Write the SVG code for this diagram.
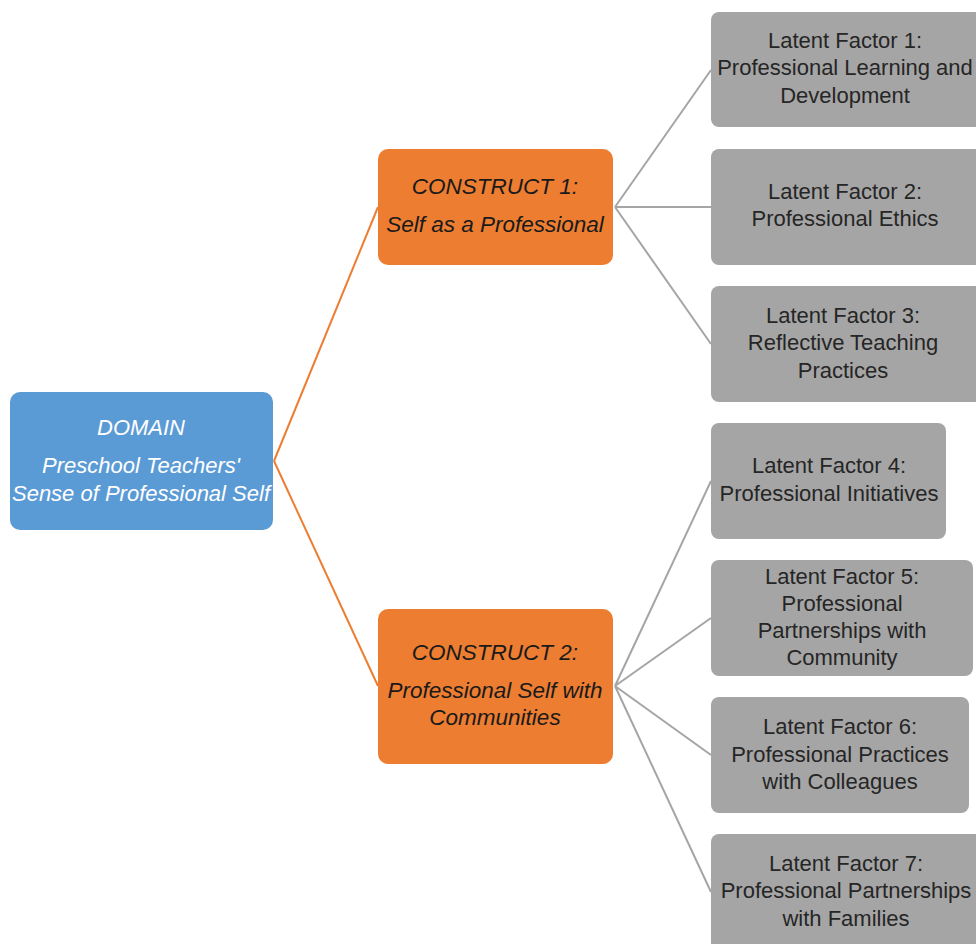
<svg xmlns="http://www.w3.org/2000/svg" width="976" height="944" viewBox="0 0 976 944">
<style>
.t{font-family:"Liberation Sans",Arial,sans-serif;font-size:22px;text-anchor:middle}
.lf rect{fill:#a5a5a5}
.lf text{fill:#262626}
.ci{font-style:italic;fill:#1a1a1a;font-size:22.5px}
.conn-o{stroke:#ed7d31;stroke-width:2;fill:none}
.conn-g{stroke:#a5a5a5;stroke-width:2;fill:none}
</style>
<rect width="976" height="944" fill="#fff"/>
<g id="connectors">
<path class="conn-o" d="M274 461L378 207M274 461L378 686"/>
<path class="conn-g" d="M615 207L711 70M615 207L711 207M615 207L711 344"/>
<path class="conn-g" d="M615 686L711 481M615 686L711 618M615 686L711 755M615 686L711 892"/>
</g>
<g id="domain">
<rect x="10" y="392" width="263" height="138" rx="10" fill="#5b9bd5"/>
<g class="t" fill="#fff" font-style="italic">
<text x="141" y="435">DOMAIN</text>
<text x="141" y="473">Preschool Teachers'</text>
<text x="141" y="501">Sense of Professional Self</text>
</g>
</g>
<g id="construct1">
<rect x="378" y="149" width="235" height="116" rx="10" fill="#ed7d31"/>
<text class="t ci" x="495" y="194">CONSTRUCT 1:</text>
<text class="t ci" x="495" y="232">Self as a  Professional</text>
</g>
<g id="construct2">
<rect x="378" y="609" width="235" height="155" rx="10" fill="#ed7d31"/>
<text class="t ci" x="495" y="660">CONSTRUCT 2:</text>
<text class="t ci" x="495" y="698">Professional Self with</text>
<text class="t ci" x="495" y="725">Communities</text>
</g>
<g id="lf1" class="lf">
<rect x="711" y="12" width="275" height="115" rx="8"/>
<text class="t" x="845" y="48">Latent Factor 1:</text>
<text class="t" x="845" y="75">Professional Learning and</text>
<text class="t" x="845" y="103">Development</text>
</g>
<g id="lf2" class="lf">
<rect x="711" y="149" width="275" height="116" rx="8"/>
<text class="t" x="845" y="199">Latent Factor 2:</text>
<text class="t" x="845" y="226">Professional Ethics</text>
</g>
<g id="lf3" class="lf">
<rect x="711" y="286" width="275" height="116" rx="8"/>
<text class="t" x="843" y="323">Latent Factor 3:</text>
<text class="t" x="843" y="350">Reflective Teaching</text>
<text class="t" x="843" y="378">Practices</text>
</g>
<g id="lf4" class="lf">
<rect x="711" y="423" width="235" height="116" rx="8"/>
<text class="t" x="829" y="473">Latent Factor 4:</text>
<text class="t" x="829" y="501">Professional Initiatives</text>
</g>
<g id="lf5" class="lf">
<rect x="711" y="560" width="262" height="116" rx="8"/>
<text class="t" x="842" y="584">Latent Factor 5:</text>
<text class="t" x="842" y="611">Professional</text>
<text class="t" x="842" y="638">Partnerships with</text>
<text class="t" x="842" y="665">Community</text>
</g>
<g id="lf6" class="lf">
<rect x="711" y="697" width="258" height="116" rx="8"/>
<text class="t" x="840" y="734">Latent Factor 6:</text>
<text class="t" x="840" y="762">Professional Practices</text>
<text class="t" x="840" y="789">with Colleagues</text>
</g>
<g id="lf7" class="lf">
<rect x="711" y="834" width="275" height="120" rx="8"/>
<text class="t" x="846" y="871">Latent Factor 7:</text>
<text class="t" x="846" y="898">Professional Partnerships</text>
<text class="t" x="846" y="926">with Families</text>
</g>
</svg>
